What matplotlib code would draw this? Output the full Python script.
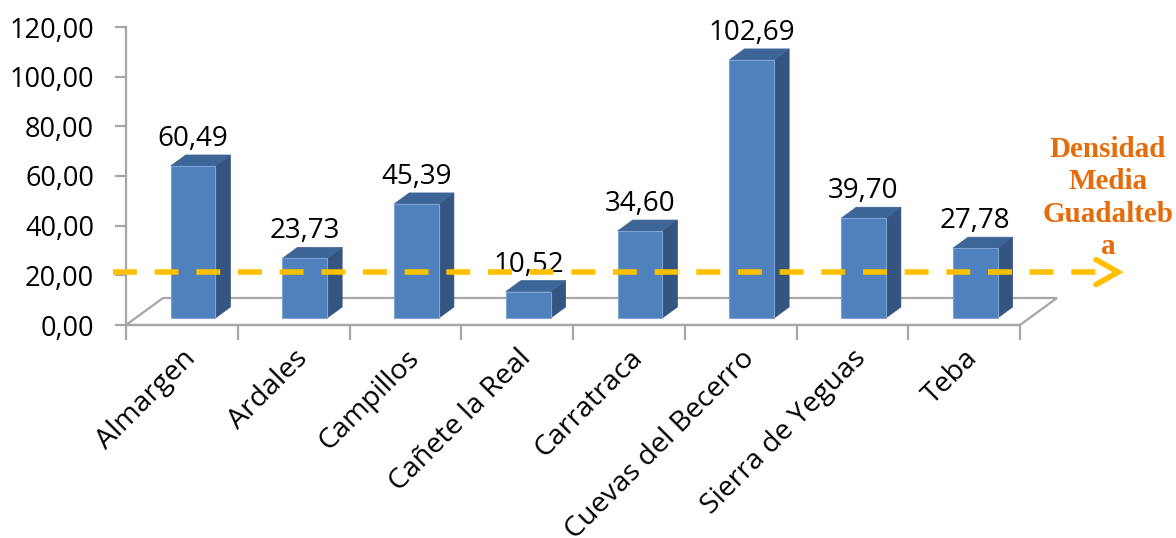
import matplotlib
matplotlib.use("Agg")
import matplotlib.pyplot as plt
from matplotlib.patches import Polygon

# ---- data ----
categories = ["Almargen", "Ardales", "Campillos", "Cañete la Real", "Carratraca",
              "Cuevas del Becerro", "Sierra de Yeguas", "Teba"]
values = [60.49, 23.73, 45.39, 10.52, 34.60, 102.69, 39.70, 27.78]
value_labels = ["60,49", "23,73", "45,39", "10,52", "34,60", "102,69", "39,70", "27,78"]
y_ticks = [0, 20, 40, 60, 80, 100, 120]
y_tick_labels = ["0,00", "20,00", "40,00", "60,00", "80,00", "100,00", "120,00"]
mean_density = 21.3
annot_text = "Densidad\nMedia\nGuadalteb\na"

W, H = 1176, 538
fig = plt.figure(figsize=(W / 100, H / 100), dpi=100)
ax_left, ax_right, ax_top, ax_bot = 126, 1020, 27, 325
ax = fig.add_axes([ax_left / W, (H - ax_bot) / H, (ax_right - ax_left) / W, (ax_bot - ax_top) / H])
ax.set_xlim(0, len(categories))
ax.set_ylim(0, 120)
ax.set_facecolor("none")

pxx = (ax_right - ax_left) / len(categories)   # px per x unit
pxy = (ax_bot - ax_top) / 120.0                # px per y unit

grey = "#A6A6A6"
# floor
fdx, fdy = 37 / pxx, 27 / pxy
n = len(categories)
floor = Polygon([(0, 0), (n, 0), (n + fdx, fdy), (fdx, fdy)], closed=True,
                facecolor="white", edgecolor=grey, lw=1.6, clip_on=False, zorder=1)
ax.add_patch(floor)

# bars
front_c, top_c, side_c = "#4F81BD", "#3D6598", "#34557F"
bw = 0.40
x_off = 0.40
sdx, sdy = 15 / pxx, 11 / pxy
base = 7 / pxy
scale = 1.012
for i, v in enumerate(values):
    x0 = i + x_off
    x1 = x0 + bw
    y0 = base
    y1 = base + v * scale
    side = Polygon([(x1, y0), (x1, y1), (x1 + sdx, y1 + sdy), (x1 + sdx, y0 + sdy)],
                   closed=True, facecolor=side_c, edgecolor=side_c, lw=0.5, clip_on=False, zorder=3)
    top = Polygon([(x0, y1), (x1, y1), (x1 + sdx, y1 + sdy), (x0 + sdx, y1 + sdy)],
                  closed=True, facecolor=top_c, edgecolor=top_c, lw=0.5, clip_on=False, zorder=3)
    front = Polygon([(x0, y0), (x1, y0), (x1, y1), (x0, y1)], closed=True,
                    facecolor=front_c, edgecolor="#7FA3D3", lw=0.8, clip_on=False, zorder=4)
    ax.add_patch(side)
    ax.add_patch(top)
    ax.add_patch(front)
    ax.text(x0 + bw / 2, y1 + 8, value_labels[i], ha="center", va="baseline",
            fontsize=20, family="Open Sans", color="black", zorder=6)

# spines and ticks
for s in ["top", "right"]:
    ax.spines[s].set_visible(False)
for s in ["left", "bottom"]:
    ax.spines[s].set_color(grey)
    ax.spines[s].set_linewidth(1.6)

ax.set_yticks(y_ticks)
ax.set_yticklabels(y_tick_labels, fontsize=19.5, family="Open Sans")
ax.tick_params(axis="y", length=8, width=1.6, color=grey, pad=15, labelcolor="black")

ax.set_xticks(range(n + 1))
ax.set_xticklabels([""] * (n + 1))
ax.tick_params(axis="x", which="major", length=11, width=1.6, color=grey)
ax.set_xticks([i + 0.5 for i in range(n)], minor=True)
ax.set_xticklabels(categories, minor=True, rotation=45, ha="right", va="top",
                   rotation_mode="anchor", fontsize=20.5, family="Open Sans")
ax.tick_params(axis="x", which="minor", length=0, pad=14)

# dashed mean line with arrow head
x_start = (113 - ax_left) / pxx
x_end = (1118 - ax_left) / pxx
ax.plot([x_start, x_end - 2 / pxx], [mean_density, mean_density], color="#FFC000", lw=4,
        dashes=(4.3, 3.2), solid_capstyle="butt", dash_capstyle="butt", clip_on=False, zorder=7)
hl, hw = 22 / pxx, 12.5 / pxy
ax.plot([x_end - hl, x_end, x_end - hl], [mean_density + hw, mean_density, mean_density - hw],
        color="#FFC000", lw=4, solid_capstyle="round", solid_joinstyle="miter",
        clip_on=False, zorder=7)

ax.text((1108 - ax_left) / pxx, (ax_bot - 136) / pxy, annot_text, ha="center", va="top",
        fontsize=21, family="Liberation Serif", fontweight="bold", color="#E46C0A",
        linespacing=1.26, zorder=8)

fig.savefig("out.png", dpi=100)
